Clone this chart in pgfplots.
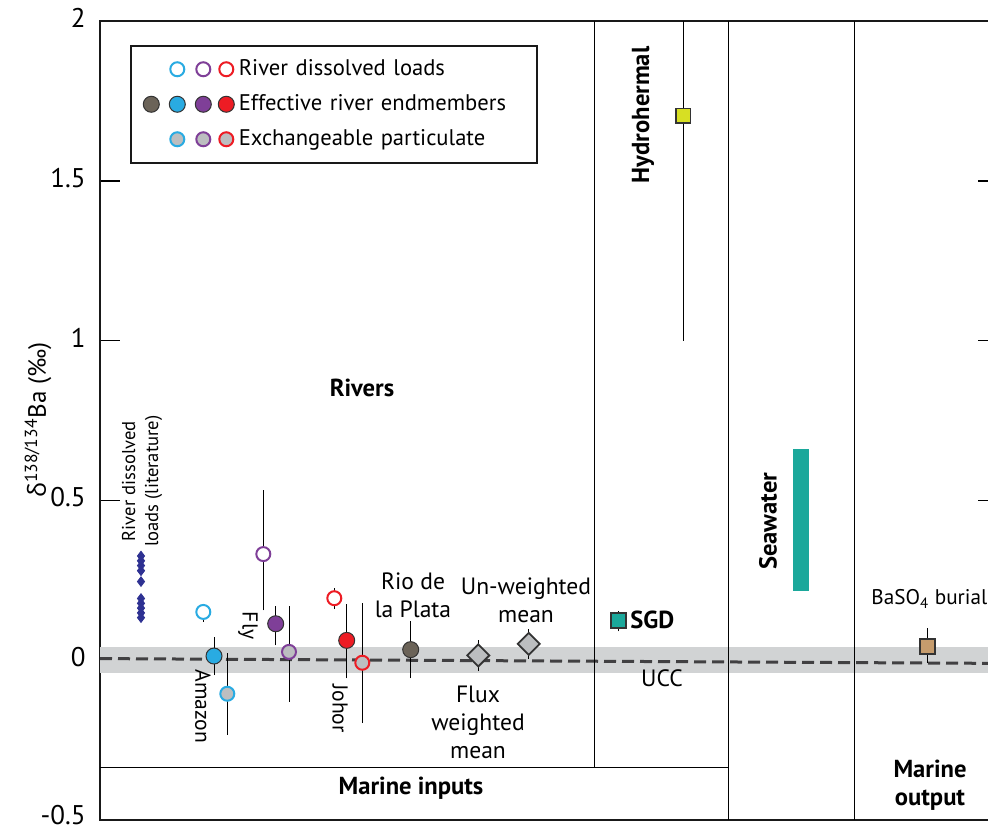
\documentclass[border=0pt]{standalone}
\usepackage{pgfplots}
\pgfplotsset{compat=1.18}
\usepackage{fontspec}
\setmainfont{PT Sans}
\newfontfamily\greekfont{Open Sans}

\definecolor{cyanM}{HTML}{29ABE2}
\definecolor{purpleM}{HTML}{7F3F98}
\definecolor{redM}{HTML}{ED1C24}
\definecolor{brownM}{HTML}{6B6358}
\definecolor{greyM}{HTML}{BCBEC0}
\definecolor{navyM}{HTML}{2E3192}
\definecolor{yellowM}{HTML}{D7DF23}
\definecolor{tealM}{HTML}{1BA89B}
\definecolor{tanM}{HTML}{C69C6D}
\definecolor{bandM}{HTML}{D1D3D4}
\definecolor{dashM}{HTML}{414042}
\definecolor{edgeM}{HTML}{333333}

\tikzset{
  dis/.style={mark=*, mark size=3.5pt, mark options={draw=#1, fill=white, line width=1pt}},
  eff/.style={mark=*, mark size=4pt, mark options={draw=edgeM, fill=#1, line width=0.5pt}},
  exc/.style={mark=*, mark size=3.5pt, mark options={draw=#1, fill=greyM, line width=1pt}},
  sq/.style={mark=square*, mark size=3.7pt, mark options={draw=edgeM, fill=#1, line width=0.9pt}},
  lbl/.style={font=\fontsize{11.8}{14}\selectfont, align=center, inner sep=0pt},
  rlbl/.style={font=\fontsize{10.8}{13}\selectfont, align=center, inner sep=0pt, rotate=-90},
  blbl/.style={font=\bfseries\fontsize{12.3}{14}\selectfont, align=center, inner sep=0pt},
}

\begin{document}
\begin{tikzpicture}
\begin{axis}[
  scale only axis, width=449pt, height=399.5pt,
  xmin=100, xmax=998, ymin=-0.5, ymax=2,
  xtick=\empty,
  ytick={-0.5,0,0.5,1,1.5,2},
  yticklabels={\raisebox{2.5pt}{-0.5},0,0.5,1,1.5,2},
  tick align=inside,
  major tick length=10pt,
  every tick/.style={black, line width=0.8pt},
  axis line style={line width=1pt, black!90},
  yticklabel style={font=\fontsize{13.5}{13.5}\selectfont, inner sep=0pt, xshift=-7pt, yshift=1.5pt},
  ylabel={{\greekfont δ}\textsuperscript{138/134}Ba (‰)},
  every axis y label/.style={at={(rel axis cs:-0.069,0.501)}, rotate=90, anchor=center,
    font=\fontsize{12.5}{12.5}\selectfont},
  clip=false,
  unbounded coords=jump,
  legend cell align=left,
  legend style={at={(0.0334,0.970)}, anchor=north west, draw=black!90, line width=0.8pt,
    font=\fontsize{11.3}{12}\selectfont, inner xsep=6pt, inner ysep=5pt, row sep=4pt,
    /tikz/every odd column/.append style={xshift=1pt},
    /tikz/every even column/.append style={column sep=7pt, text width=141pt}},
]
% legend glyphs: one row per sample type
\addlegendimage{legend image code/.code={
  \path[draw=none, fill=none] (0pt,0pt) circle[radius=4pt];
  \draw[cyanM, line width=1pt, fill=white] (13pt,0pt) circle[radius=3.5pt];
  \draw[purpleM, line width=1pt, fill=white] (26pt,0pt) circle[radius=3.5pt];
  \draw[redM, line width=1pt, fill=white] (37.5pt,0pt) circle[radius=3.5pt];
}}
\addlegendentry{River dissolved loads}
\addlegendimage{legend image code/.code={
  \draw[edgeM, line width=0.5pt, fill=brownM] (0pt,0pt) circle[radius=4pt];
  \draw[edgeM, line width=0.5pt, fill=cyanM] (13pt,0pt) circle[radius=4pt];
  \draw[edgeM, line width=0.5pt, fill=purpleM] (26pt,0pt) circle[radius=4pt];
  \draw[edgeM, line width=0.5pt, fill=redM] (37.5pt,0pt) circle[radius=4pt];
}}
\addlegendentry{Effective river endmembers}
\addlegendimage{legend image code/.code={
  \path[draw=none, fill=none] (0pt,0pt) circle[radius=4pt];
  \draw[cyanM, line width=1pt, fill=greyM] (13pt,0pt) circle[radius=3.5pt];
  \draw[purpleM, line width=1pt, fill=greyM] (26pt,0pt) circle[radius=3.5pt];
  \draw[redM, line width=1pt, fill=greyM] (37.5pt,0pt) circle[radius=3.5pt];
}}
\addlegendentry{Exchangeable particulate}

% UCC band and reference line
\addplot[fill=bandM, draw=none, forget plot] coordinates {(100,-0.039) (998,-0.039) (998,0.041) (100,0.041)} --cycle;
\addplot[dashM, line width=1.5pt, dash pattern=on 6pt off 3pt, forget plot] coordinates {(100,0.005) (998,-0.01)};

% panel frames
\addplot[black, line width=0.5pt, forget plot] coordinates {(594.3,2) (594.3,-0.3357)};
\addplot[black, line width=0.5pt, forget plot] coordinates {(100,-0.3357) (728.3,-0.3357)};
\addplot[black, line width=0.5pt, forget plot] coordinates {(728.3,2) (728.3,-0.5)};
\addplot[black, line width=0.5pt, forget plot] coordinates {(854.3,2) (854.3,-0.5)};

% seawater range
\addplot[fill=tealM, draw=none, forget plot] coordinates {(793.3,0.218) (809,0.218) (809,0.66) (793.3,0.66)} --cycle;

% uncertainty ranges
\addplot[black, line width=0.5pt, forget plot] coordinates {
  (203.3,0.12) (203.3,0.15) (203.3,nan)
  (214,-0.047) (214,0.073) (214,nan)
  (227.3,-0.234) (227.3,0.024) (227.3,nan)
  (263.3,0.156) (263.3,0.532) (263.3,nan)
  (275.7,0.046) (275.7,0.171) (275.7,nan)
  (289,-0.13) (289,0.171) (289,nan)
  (334.3,0.16) (334.3,0.225) (334.3,nan)
  (346.7,-0.057) (346.7,0.176) (346.7,nan)
  (362.3,-0.197) (362.3,0.18) (362.3,nan)
  (410.7,-0.057) (410.7,0.122) (410.7,nan)
  (478.3,-0.034) (478.3,0.064) (478.3,nan)
  (528.7,0.005) (528.7,0.098) (528.7,nan)
  (618.3,0.09) (618.3,0.155) (618.3,nan)
  (683,1.0) (683,2.0) (683,nan)
  (927.3,-0.01) (927.3,0.101)
};

% literature river dissolved loads
\addplot[only marks, mark=diamond*, mark size=2.4pt, navyM, forget plot] coordinates {
  (141,0.326) (141,0.311) (141,0.296) (141,0.280) (141,0.246)
  (141,0.193) (141,0.178) (141,0.163) (141,0.148) (141,0.133)
};

% Amazon
\addplot[only marks, dis=cyanM, forget plot] coordinates {(203.3,0.151)};
\addplot[only marks, eff=cyanM, forget plot] coordinates {(214,0.013)};
\addplot[only marks, exc=cyanM, forget plot] coordinates {(227.3,-0.105)};
% Fly
\addplot[only marks, dis=purpleM, forget plot] coordinates {(263.3,0.332)};
\addplot[only marks, eff=purpleM, forget plot] coordinates {(275.7,0.114)};
\addplot[only marks, exc=purpleM, forget plot] coordinates {(289,0.026)};
% Johor
\addplot[only marks, dis=redM, forget plot] coordinates {(334.3,0.194)};
\addplot[only marks, eff=redM, forget plot] coordinates {(346.7,0.062)};
\addplot[only marks, exc=redM, forget plot] coordinates {(362.3,-0.008)};
% Rio de la Plata
\addplot[only marks, eff=brownM, forget plot] coordinates {(410.7,0.033)};
% means
\addplot[only marks, mark=square*, mark size=3.9pt, mark options={rotate=45, draw=edgeM, fill=greyM, line width=0.9pt}, forget plot]
  coordinates {(478.3,0.015) (528.7,0.051)};
% SGD, hydrothermal, BaSO4 burial
\addplot[only marks, sq=tealM, forget plot] coordinates {(618.3,0.124)};
\addplot[only marks, sq=yellowM, forget plot] coordinates {(683,1.703)};
\addplot[only marks, sq=tanM, forget plot] coordinates {(927.3,0.042)};

% annotations
\node[blbl] at (axis cs:362,0.853) {Rivers};
\node[lbl, rotate=90, font=\fontsize{9.3}{11.5}\selectfont] at (axis cs:142,0.560) {River dissolved\\loads (literature)};
\node[rlbl] at (axis cs:248,0.108) {Fly};
\node[rlbl] at (axis cs:203,-0.145) {Amazon};
\node[rlbl] at (axis cs:340,-0.151) {Johor};
\node[lbl] at (axis cs:413,0.204) {Rio de\\la Plata};
\node[lbl] at (axis cs:526,0.189) {Un-weighted\\mean};
\node[lbl] at (axis cs:478,-0.194) {Flux\\weighted\\mean};
\node[blbl, anchor=west] at (axis cs:630,0.1266) {SGD};
\node[lbl] at (axis cs:662,-0.0573) {UCC};
\node[blbl, rotate=90] at (axis cs:643,1.706) {Hydrohermal};
\node[blbl, rotate=90] at (axis cs:768,0.435) {Seawater};
\node[lbl, anchor=west, font=\fontsize{10.6}{13}\selectfont] at (axis cs:871,0.192) {BaSO\textsubscript{4} burial};
\node[blbl] at (axis cs:411,-0.4003) {Marine inputs};
\node[blbl] at (axis cs:930,-0.391) {Marine\\output};

\coordinate (bbsw) at (axis cs:0,-0.5219);
\coordinate (bbne) at (axis cs:988,2.0657);
\end{axis}
\pgfresetboundingbox
\path[use as bounding box] (bbsw) rectangle (bbne);
\end{tikzpicture}
\end{document}
